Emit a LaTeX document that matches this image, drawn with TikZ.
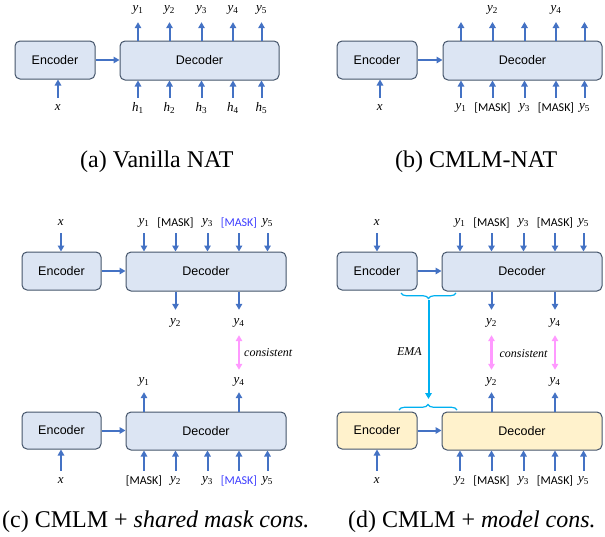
\documentclass[tikz,border=0pt]{standalone}
\usepackage{fontspec}
\newfontfamily\capfont{Liberation Serif}
\newfontfamily\boxfont{Liberation Sans}
\newfontfamily\maskfont{Carlito}
\newcommand\lv[2]{{\itshape #1}\textsubscript{#2}}
\usetikzlibrary{arrows.meta,decorations.pathreplacing}
\definecolor{boxfill}{HTML}{DCE5F3}
\definecolor{boxline}{HTML}{44546A}
\definecolor{yfill}{HTML}{FFF2CC}
\definecolor{arrblue}{HTML}{4472C4}
\definecolor{pinkc}{HTML}{FF99FF}
\definecolor{cyanc}{HTML}{00B0F0}
\definecolor{maskblue}{HTML}{3C3CFF}
\tikzset{
  box/.style={draw=boxline, fill=boxfill, rounded corners=5pt, line width=1pt, inner sep=0pt,
    font=\boxfont\fontsize{12.5}{14}\selectfont},
  encbox/.style={box, minimum width=80pt, minimum height=38pt},
  decbox/.style={box, minimum width=160pt, minimum height=39pt},
  yel/.style={fill=yfill},
  arr/.style={draw=arrblue, line width=2pt, -{Triangle[length=6pt,width=6.5pt]}},
  pinkarr/.style={draw=pinkc, line width=2.2pt, {Triangle[length=6pt,width=6.5pt]}-{Triangle[length=6pt,width=6.5pt]}, shorten >=2pt, shorten <=2pt},
  cyanarr/.style={draw=cyanc, line width=2pt, -{Triangle[length=6pt,width=6.5pt]}},
  bracel/.style={draw=cyanc, line width=1.2pt, decorate, decoration={brace, amplitude=5.5pt}},
  lbl/.style={inner sep=0pt, minimum height=20pt, font=\capfont\fontsize{13}{15}\selectfont},
  mask/.style={inner sep=0pt, minimum height=20pt, font=\maskfont\fontsize{12}{14}\selectfont},
  bmask/.style={mask, text=maskblue},
  itl/.style={inner sep=0pt, font=\capfont\fontsize{12}{14}\selectfont\itshape},
  captext/.style={inner sep=0pt, anchor=base west, font=\capfont\fontsize{24}{28}\selectfont},
}
\begin{document}
\begin{tikzpicture}[x=1pt,y=-1pt]
\useasboundingbox (0,0) rectangle (605,536);

% ---------------- (a) Vanilla NAT ----------------
\node[encbox] (encA) at (55,60) {Encoder};
\node[decbox, minimum width=159pt] (decA) at (199.5,60.5) {Decoder};
\draw[arr] (encA.east) -- (encA.east -| decA.west);
\node[lbl] (xA) at (58,108) {\lv{x}{}};
\draw[arr] (xA.north) -- (xA.north |- encA.south);
\foreach \i/\c in {1/138,2/169.5,3/201.5,4/233,5/261.5}{
  \node[lbl] (ao\i) at (\c,10) {\lv{y}{\i}};
  \node[lbl] (ai\i) at (\c,108) {\lv{h}{\i}};
  \draw[arr, shorten >=2pt] (ao\i.south |- decA.north) -- (ao\i.south);
  \draw[arr] (ai\i.north) -- (ai\i.north |- decA.south);
}
\node[captext] (capA) at (80,167) {(a) Vanilla NAT};

% ---------------- (b) CMLM-NAT ----------------
\node[encbox] (encB) at (377,60) {Encoder};
\node[decbox, minimum width=159pt] (decB) at (522.5,60.5) {Decoder};
\draw[arr] (encB.east) -- (encB.east -| decB.west);
\node[lbl] (xB) at (380,108) {\lv{x}{}};
\draw[arr] (xB.north) -- (xB.north |- encB.south);
\foreach \i/\c in {1/461,2/492.5,3/524.5,4/556,5/584.5}{
  \coordinate (bo\i) at (\c,22);
  \draw[arr] (bo\i |- decB.north) -- (bo\i);
}
\node[lbl] (bl2) at (492.5,10) {\lv{y}{2}};
\node[lbl] (bl4) at (556,10) {\lv{y}{4}};
\node[lbl] (bi1) at (461,108) {\lv{y}{1}};
\node[mask] (bi2) at (492.5,108) {[MASK]};
\node[lbl] (bi3) at (524.5,108) {\lv{y}{3}};
\node[mask] (bi4) at (556,108) {[MASK]};
\node[lbl] (bi5) at (584.5,108) {\lv{y}{5}};
\foreach \i in {1,...,5}{
  \draw[arr] (bi\i.north) -- (bi\i.north |- decB.south);
}
\node[captext] (capB) at (395,167) {(b) CMLM-NAT};

% ---------------- (c) shared mask cons ----------------
\node[encbox, minimum width=79pt] (encC) at (61.5,271) {Encoder};
\node[decbox] (decC) at (206,271.5) {Decoder};
\draw[arr] (encC.east) -- (encC.east -| decC.west);
\node[lbl] (xC) at (61,223) {\lv{x}{}};
\draw[arr] (xC.south) -- (xC.south |- encC.north);
\node[lbl] (ci1) at (144,223) {\lv{y}{1}};
\node[mask] (ci2) at (175.5,223) {[MASK]};
\node[lbl] (ci3) at (207.5,223) {\lv{y}{3}};
\node[bmask] (ci4) at (239,223) {[MASK]};
\node[lbl] (ci5) at (267.5,223) {\lv{y}{5}};
\foreach \i in {1,...,5}{
  \draw[arr] (ci\i.south) -- (ci\i.south |- decC.north);
}
\node[lbl] (co2) at (175.5,323) {\lv{y}{2}};
\node[lbl] (co4) at (239,323) {\lv{y}{4}};
\draw[arr, shorten >=3pt] (co2.north |- decC.south) -- (co2.north);
\draw[arr, shorten >=3pt] (co4.north |- decC.south) -- (co4.north);
% lower
\node[encbox, minimum width=79pt, minimum height=37pt] (encC2) at (61.5,430.5) {Encoder};
\node[decbox, minimum height=38pt] (decC2) at (206,431) {Decoder};
\draw[arr] (encC2.east) -- (encC2.east -| decC2.west);
\node[lbl] (cu1) at (144,382) {\lv{y}{1}};
\node[lbl] (cu4) at (239,382) {\lv{y}{4}};
\draw[arr] (cu1.south |- decC2.north) -- (cu1.south);
\draw[arr] (cu4.south |- decC2.north) -- (cu4.south);
\draw[pinkarr] (co4.south) -- (cu4.north);
\node[itl, anchor=west] (consC) at (244,353) {consistent};
\node[lbl] (xC2) at (61,481) {\lv{x}{}};
\draw[arr] (xC2.north) -- (xC2.north |- encC2.south);
\node[mask] (cj1) at (144,481) {[MASK]};
\node[lbl] (cj2) at (175.5,481) {\lv{y}{2}};
\node[lbl] (cj3) at (207.5,481) {\lv{y}{3}};
\node[bmask] (cj4) at (239,481) {[MASK]};
\node[lbl] (cj5) at (267.5,481) {\lv{y}{5}};
\foreach \i in {1,...,5}{
  \draw[arr] (cj\i.north) -- (cj\i.north |- decC2.south);
}
\node[captext] (capC) at (2,527) {(c) CMLM + \textit{shared mask cons.}};

% ---------------- (d) model cons ----------------
\node[encbox] (encD) at (377,271) {Encoder};
\node[decbox] (decD) at (522,271.5) {Decoder};
\draw[arr] (encD.east) -- (encD.east -| decD.west);
\node[lbl] (xD) at (377,223) {\lv{x}{}};
\draw[arr] (xD.south) -- (xD.south |- encD.north);
\node[lbl] (di1) at (460,223) {\lv{y}{1}};
\node[mask] (di2) at (491.5,223) {[MASK]};
\node[lbl] (di3) at (523.5,223) {\lv{y}{3}};
\node[mask] (di4) at (555,223) {[MASK]};
\node[lbl] (di5) at (583.5,223) {\lv{y}{5}};
\foreach \i in {1,...,5}{
  \draw[arr] (di\i.south) -- (di\i.south |- decD.north);
}
\node[lbl] (do2) at (491.5,323) {\lv{y}{2}};
\node[lbl] (do4) at (555,323) {\lv{y}{4}};
\draw[arr, shorten >=3pt] (do2.north |- decD.south) -- (do2.north);
\draw[arr, shorten >=3pt] (do4.north |- decD.south) -- (do4.north);
% lower
\node[encbox, yel, minimum height=37pt] (encD2) at (377,430.5) {Encoder};
\node[decbox, yel, minimum height=38pt] (decD2) at (522,431) {Decoder};
\draw[arr] (encD2.east) -- (encD2.east -| decD2.west);
\node[lbl] (du2) at (491.5,382) {\lv{y}{2}};
\node[lbl] (du4) at (555,382) {\lv{y}{4}};
\draw[arr] (du2.south |- decD2.north) -- (du2.south);
\draw[arr] (du4.south |- decD2.north) -- (du4.south);
\draw[pinkarr] (do2.south) -- (du2.north);
\draw[pinkarr] (do4.south) -- (du4.north);
\node[itl] (consD) at (523.5,354) {consistent};
\node[lbl] (xD2) at (377,481) {\lv{x}{}};
\draw[arr] (xD2.north) -- (xD2.north |- encD2.south);
\node[lbl] (dj1) at (460,481) {\lv{y}{2}};
\node[mask] (dj2) at (491.5,481) {[MASK]};
\node[lbl] (dj3) at (523.5,481) {\lv{y}{3}};
\node[mask] (dj4) at (555,481) {[MASK]};
\node[lbl] (dj5) at (583.5,481) {\lv{y}{5}};
\foreach \i in {1,...,5}{
  \draw[arr] (dj\i.north) -- (dj\i.north |- decD2.south);
}
% EMA braces
\coordinate (bt1) at (456,293);
\coordinate (bt2) at (401,293);
\coordinate (bb1) at (399,410);
\coordinate (bb2) at (457,410);
\draw[bracel] (bt1) -- (bt2);
\draw[bracel] (bb1) -- (bb2);
\coordinate (ema1) at (428.5,300);
\coordinate (ema2) at (428.5,399);
\draw[cyanarr] (ema1) -- (ema2);
\node[itl, anchor=east] (emaL) at (422,352) {EMA};
\node[captext] (capD) at (348,527) {(d) CMLM + \textit{model cons.}};
\end{tikzpicture}
\end{document}
